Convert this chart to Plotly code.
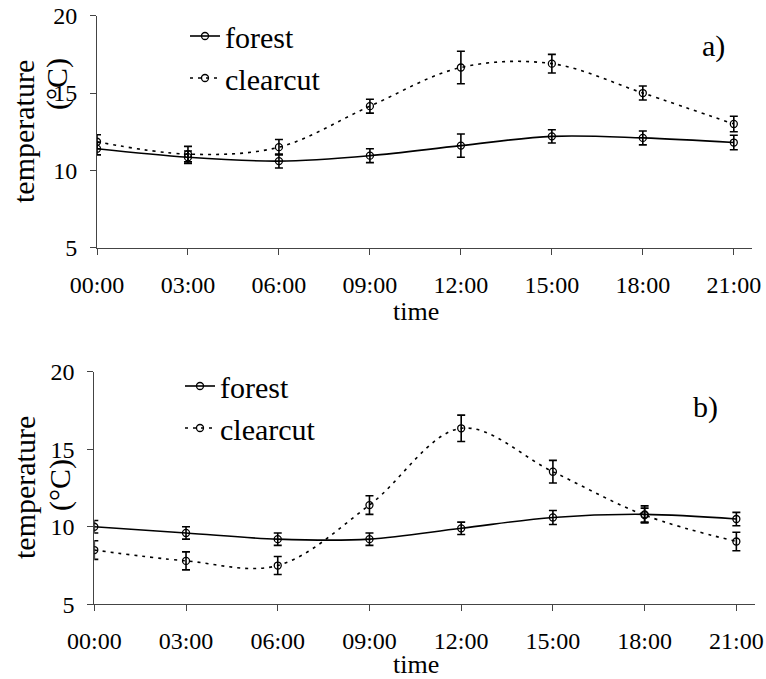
import plotly.graph_objects as go

hours = [0, 3, 6, 9, 12, 15, 18, 21]
tick_labels = ["00:00", "03:00", "06:00", "09:00", "12:00", "15:00", "18:00", "21:00"]

forest_a = [11.4, 10.85, 10.6, 10.95, 11.6, 12.2, 12.1, 11.8]
forest_a_err = [0.4, 0.4, 0.45, 0.45, 0.75, 0.43, 0.45, 0.47]
clear_a = [11.85, 11.05, 11.5, 14.15, 16.65, 16.9, 15.0, 13.0]
clear_a_err = [0.45, 0.5, 0.5, 0.45, 1.05, 0.6, 0.45, 0.5]

forest_b = [10.0, 9.6, 9.2, 9.2, 9.9, 10.6, 10.8, 10.5]
forest_b_err = [0.4, 0.4, 0.4, 0.4, 0.4, 0.45, 0.55, 0.43]
clear_b = [8.5, 7.8, 7.5, 11.4, 16.35, 13.55, 10.75, 9.05]
clear_b_err = [0.6, 0.58, 0.58, 0.6, 0.85, 0.73, 0.45, 0.6]

W, H = 766, 679
FONT = "Liberation Serif"

def px(v):
    return v / W

def py(v):
    return 1 - v / H

fig = go.Figure()

def add_series(x, y, err, name, dash, xa, ya, legend):
    fig.add_trace(go.Scatter(
        x=x, y=y, name=name, mode="lines+markers",
        xaxis=xa, yaxis=ya, legend=legend,
        line=dict(color="black", width=1.6, shape="spline", smoothing=1, dash=dash),
        marker=dict(symbol="circle-open", size=7, color="black", line=dict(width=1.3, color="black")),
        error_y=dict(type="data", array=err, visible=True, color="black", thickness=1.6, width=4),
    ))

add_series(hours, forest_a, forest_a_err, "forest", "solid", "x", "y", "legend")
add_series(hours, clear_a, clear_a_err, "clearcut", "3px,5px", "x", "y", "legend")
add_series(hours, forest_b, forest_b_err, "forest", "solid", "x2", "y2", "legend2")
add_series(hours, clear_b, clear_b_err, "clearcut", "3px,5px", "x2", "y2", "legend2")

axis_common = dict(
    automargin=False,
    showgrid=False, zeroline=False, showline=True, linecolor="#444", linewidth=1,
    ticks="outside", ticklen=6, tickcolor="#444", tickwidth=1,
    tickfont=dict(family=FONT, size=24, color="black"),
)

xcommon = dict(axis_common, range=[0, 21.6], tickmode="array", tickvals=hours,
               ticktext=tick_labels, ticklabelstandoff=9)
ycommon = dict(axis_common, range=[5, 20], tickmode="array", tickvals=[5, 10, 15, 20],
               ticktext=["5", "10", "15", "20"], ticklabelstandoff=8)

fig.update_layout(
    template="none",
    width=W, height=H,
    margin=dict(l=0, r=0, t=0, b=0, autoexpand=False),
    paper_bgcolor="white", plot_bgcolor="white",
    font=dict(family=FONT, color="black"),
    xaxis=dict(xcommon, domain=[px(97), px(752)], anchor="y"),
    yaxis=dict(ycommon, domain=[py(247.7), py(15.7)], anchor="x"),
    xaxis2=dict(xcommon, domain=[px(94.3), px(754.7)], anchor="y2"),
    yaxis2=dict(ycommon, domain=[py(604.3), py(371.7)], anchor="x2"),
    legend=dict(x=px(185), y=py(10), xanchor="left", yanchor="top",
                font=dict(family=FONT, size=30, color="black"), bgcolor="rgba(0,0,0,0)",
                tracegroupgap=0),
    legend2=dict(x=px(180), y=py(360), xanchor="left", yanchor="top",
                 font=dict(family=FONT, size=30, color="black"), bgcolor="rgba(0,0,0,0)",
                 tracegroupgap=0),
    showlegend=True,
)

ann = [
    dict(text="temperature", x=px(24), y=py(132), textangle=-90, font_size=30),
    dict(text="(°C)", x=px(57), y=py(84), textangle=-90, font_size=30),
    dict(text="temperature", x=px(24), y=py(488), textangle=-90, font_size=30),
    dict(text="(°C)", x=px(60), y=py(485), textangle=-90, font_size=30),
    dict(text="time", x=px(416), y=py(312), font_size=26),
    dict(text="time", x=px(416), y=py(664), font_size=26),
    dict(text="a)", x=px(713), y=py(46), font_size=30),
    dict(text="b)", x=px(705), y=py(407), font_size=30),
]
for a in ann:
    fig.add_annotation(xref="paper", yref="paper", showarrow=False,
                       xanchor="center", yanchor="middle",
                       x=a["x"], y=a["y"], text=a["text"], textangle=a.get("textangle", 0),
                       font=dict(family=FONT, size=a["font_size"], color="black"))

fig.write_html("out.html", config={"displayModeBar": False},
               post_script="document.body.style.margin='0';document.body.style.overflow='hidden';")
